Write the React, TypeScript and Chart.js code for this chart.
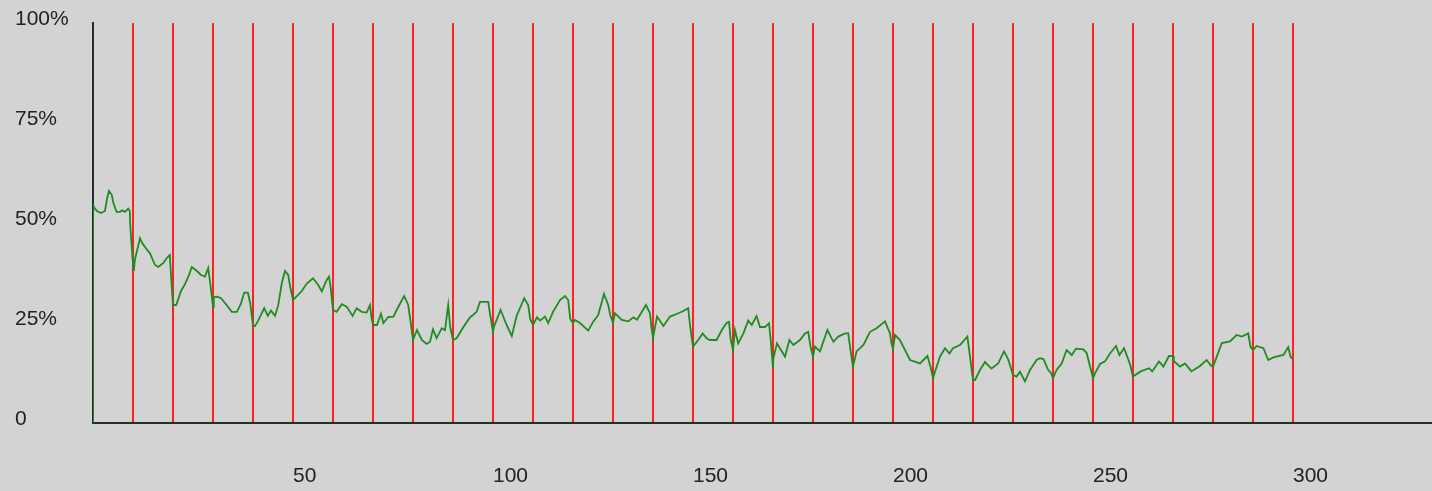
import React, { useEffect, useRef } from "react";
import { Chart, registerables } from "chart.js";

Chart.register(...registerables);

// Sample positions (x) and rates in percent (y)
const sampleX = [
  0, 0, 0.5, 1, 2, 3, 3.5, 4, 4.7, 5.1, 5.9, 6.75, 7.3, 8, 8.8, 9.2, 9.3, 9.9, 10.2,
  10.5, 11, 11.75, 12.3, 13, 14.25, 15.5, 16.3, 17.6, 18.4, 19.2, 19.5, 20,
  20.8, 22, 23, 24, 24.7, 26, 27, 28, 28.8, 29.3, 30,
  30.2, 31, 32, 33.4, 34.7, 36, 37, 37.8, 38.7, 39.3, 40,
  40.5, 41.3, 42.8, 43.7, 44.5, 45.5, 46.3, 47.2, 48, 48.8, 49.3, 50,
  50.5, 52.2, 53.4, 55, 56.3, 57.2, 58.4, 59, 59.4, 60,
  60.9, 62.2, 63.4, 64.9, 65.9, 67.2, 68.4, 69.25, 69.6, 70,
  71, 72, 72.6, 73.8, 75.1, 76.3, 77.8, 78.8, 79.3, 80,
  81, 82.2, 83.4, 84.25, 85, 85.9, 87.2, 88, 88.8, 89.3, 90,
  90.9, 92.6, 94.25, 95, 95.9, 96.75, 98.8, 99.3, 100,
  100.25, 101.9, 103.4, 104.7, 105.9, 107.8, 108.8, 109.3, 110,
  111, 111.75, 113, 113.8, 115, 116.75, 118, 118.8, 119.3, 120,
  120.5, 121.75, 123.8, 125.1, 126.3, 127.75, 128.8, 129.3, 130,
  130.5, 132.2, 133.8, 135.1, 136, 138.25, 139.25, 139.6, 140,
  141, 142.6, 144.25, 145.9, 147.6, 148.8, 149.3, 150,
  151.3, 152.4, 153.4, 154.2, 155.9, 157.2, 158.4, 159, 159.4, 160,
  160.5, 161.3, 162.6, 163.8, 164.7, 165.9, 166.75, 168, 169, 169.4, 170,
  170.1, 171, 172, 173, 174.1, 175.1, 176.75, 178, 178.8, 179.4, 180,
  180.5, 181.75, 183.6, 185.1, 186.3, 188, 188.8, 189.4, 190,
  190.9, 192.6, 194.25, 195.9, 198, 199.25, 199.6, 200,
  200.5, 201.75, 204.25, 206.75, 208.6, 209.4, 210,
  210.1, 211.75, 213, 214.1, 215, 216.75, 218.6, 219.2, 220,
  220.5, 221.75, 223, 224.6, 226.3, 227.75, 228.8, 229.4, 230,
  230.9, 231.75, 233, 234.25, 235.9, 236.75, 237.6, 238.8, 239.5, 240,
  240.9, 242.2, 243.4, 244.7, 245.75, 247.6, 248.4, 249.3, 250,
  250.5, 251.75, 253, 254.25, 255.75, 256.6, 257.75, 258.6, 259.3, 260,
  261.9, 264, 264.8, 266.5, 267.6, 269, 270,
  270.2, 271.75, 273, 274.6, 276.75, 278.4, 279.4, 280,
  280.5, 282.2, 284.25, 285.9, 287.2, 288.8, 289.4, 290,
  290.9, 292.6, 293.8, 295.1, 297.6, 298.8, 299.4, 300,
];

const rateValues = [
  0, 54.5, 53.5, 53, 52.5, 53, 56, 58, 57, 55, 52.8, 52.8, 53.2, 52.8, 53.6, 53, 49.5, 41, 38,
  41, 43, 46.2, 45, 44, 42.4, 39.5, 39, 40, 41.2, 42, 37, 29.5,
  29.5, 33, 34.7, 37, 39, 38, 37, 36.6, 38.7, 35, 29,
  31.5, 31.6, 31.2, 29.5, 27.8, 27.8, 29.9, 32.6, 32.6, 30, 24.4,
  24.2, 25.6, 28.7, 26.8, 28.1, 26.8, 29.4, 35, 38, 37, 34, 30.8,
  31.2, 33, 34.8, 36.2, 34.5, 32.9, 35.7, 36.6, 34, 28.25,
  27.8, 29.7, 29.1, 26.75, 28.7, 27.8, 27.6, 29.5, 26.5, 24.5,
  24.5, 27.3, 25, 26.5, 26.6, 29, 31.75, 29.5, 26, 20.75,
  23.25, 20.75, 19.75, 20.3, 23.4, 21.2, 23.7, 23.2, 29.5, 24, 20.75,
  21.2, 24, 26.4, 27, 27.8, 30.3, 30.3, 27, 22.8,
  24.1, 28.25, 24.5, 21.75, 26.75, 31.2, 29.5, 26, 24.5,
  26.4, 25.6, 26.6, 25, 27.8, 30.75, 31.75, 30.75, 26, 25,
  25.75, 25, 23.1, 25.4, 27, 32.25, 29.5, 27, 25,
  27.4, 25.75, 25.4, 26.4, 25.8, 29.5, 27.4, 24, 21.2,
  26.6, 24.25, 26.6, 27.25, 28, 28.7, 24, 19.1,
  20.75, 22.4, 21.2, 20.75, 20.75, 23.25, 25, 25.3, 21, 18.25,
  23.25, 19.9, 22.4, 25.6, 24.5, 26.75, 24, 24, 24.9, 21, 13.7,
  16.2, 19.9, 18.25, 16.6, 20.75, 19.5, 20.75, 22.4, 22.8, 19, 16.6,
  19.1, 17.9, 23.25, 20.3, 21.6, 22.4, 22.4, 18, 14.1,
  17.9, 19.5, 22.8, 23.7, 25.4, 22.4, 20, 18.5,
  22, 20.75, 15.75, 14.9, 16.75, 14, 11.2,
  11.6, 16.6, 18.7, 17.4, 18.7, 19.5, 21.6, 17, 10.75,
  10.75, 13.25, 15.25, 13.6, 14.9, 17.9, 15.9, 14, 12,
  11.6, 12.8, 10.4, 13.25, 15.75, 16.2, 16, 13.25, 12.5, 11.2,
  13.25, 14.9, 18.25, 17, 18.6, 18.4, 17.5, 14, 11.2,
  12.4, 14.75, 15.4, 17.4, 19.25, 17, 18.7, 16.5, 14.5, 11.6,
  12.9, 13.7, 12.9, 15.4, 14.1, 16.75, 16.75,
  15.5, 14.1, 14.9, 12.9, 14.25, 15.75, 14.5, 14,
  15.4, 20, 20.4, 22, 21.6, 22.4, 19, 18.25,
  19.25, 18.7, 15.75, 16.4, 17, 19, 16.5, 16,
];

// Red marker positions on the x axis
const markers = [
  10, 20, 30, 40, 50, 60, 70, 80, 90, 100, 110, 120, 130, 140, 150,
  160, 170, 180, 190, 200, 210, 220, 230, 240, 250, 260, 270, 280, 290, 300,
];

const xLabelValues = [50, 100, 150, 200, 250, 300];
const yLabelValues = [0, 25, 50, 75, 100];

const X_MAX = 334.75;
const FONT = { family: "'Liberation Sans', Arial, sans-serif", size: 21 };

export default function App() {
  const canvasRef = useRef<HTMLCanvasElement | null>(null);

  useEffect(() => {
    if (!canvasRef.current) return;
    const points = sampleX.map((x, i) => ({ x, y: rateValues[i] }));
    const chart = new Chart(canvasRef.current, {
      type: "line",
      data: {
        datasets: [
          {
            data: points,
            borderColor: "#1f8c1f",
            borderWidth: 1.8,
            pointRadius: 0,
            tension: 0,
            fill: false,
          },
        ],
      },
      options: {
        animation: false,
        responsive: true,
        maintainAspectRatio: false,
        layout: { padding: { top: 23, left: 15, right: 0, bottom: 0 } },
        plugins: { legend: { display: false }, tooltip: { enabled: false } },
        scales: {
          x: {
            type: "linear",
            min: 0,
            max: X_MAX,
            afterFit: (s: any) => {
              s.height = 68;
              s.paddingRight = 0;
              s.paddingLeft = 0;
            },
            border: { display: true, color: "#2a2a2a", width: 2 },
            grid: {
              drawTicks: false,
              lineWidth: 2,
              color: (ctx: any) =>
                ctx.tick && markers.includes(ctx.tick.value) ? "#ff2020" : "rgba(0,0,0,0)",
            },
            ticks: {
              stepSize: 10,
              autoSkip: false,
              maxRotation: 0,
              align: "start",
              padding: 41,
              color: "#222",
              font: FONT,
              callback: (v: any) => (xLabelValues.includes(v) ? String(v) : ""),
            },
          },
          y: {
            min: 0,
            max: 100,
            afterFit: (s: any) => {
              s.width = 78;
            },
            border: { display: true, color: "#2a2a2a", width: 2 },
            grid: { display: false, drawTicks: false },
            ticks: {
              stepSize: 25,
              crossAlign: "far",
              labelOffset: -4,
              color: "#222",
              font: FONT,
              callback: (v: any) =>
                yLabelValues.includes(v) ? (v === 0 ? "0" : v + "%") : "",
            },
          },
        },
      },
    });
    return () => chart.destroy();
  }, []);

  return (
    <div
      style={{
        position: "fixed",
        left: 0,
        top: 0,
        width: 1432,
        height: 491,
        background: "#d3d3d3",
      }}
    >
      <canvas ref={canvasRef} />
    </div>
  );
}
